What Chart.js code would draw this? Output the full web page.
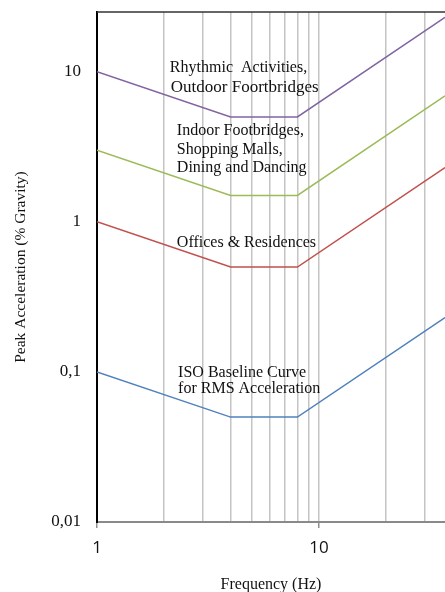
<!DOCTYPE html>
<html>
<head>
<meta charset="utf-8">
<script src="https://cdn.jsdelivr.net/npm/chart.js@4/dist/chart.umd.min.js"></script>
<style>
  html, body { margin: 0; padding: 0; background: #fff; }
  #wrap { width: 445px; height: 592px; position: relative; }
</style>
</head>
<body>
<div id="wrap"><canvas id="c"></canvas></div>
<script>
// ---- data ----
const frequencies = [1, 4, 8, 37];
const isoBaseline = [0.1, 0.05, 0.05, 0.23];
const officesResidences = [1, 0.5, 0.5, 2.3];
const indoorFootbridges = [3, 1.5, 1.5, 6.9];
const rhythmicActivities = [10, 5, 5, 23];

const xGridValues = [1, 2, 3, 4, 5, 6, 7, 8, 9, 10, 20, 30];
const xTickLabels = [1, 10];
const yTickValues = [0.01, 0.1, 1, 10];
const yTickLabels = ['0,01', '0,1', '1', '10'];

const noteTexts = ['Rhythmic  Activities,', 'Outdoor Foortbridges', 'Indoor Footbridges,', 'Shopping Malls,', 'Dining and Dancing', 'Offices & Residences', 'ISO Baseline Curve', 'for RMS Acceleration'];
const noteFreqs = [2.13, 2.15, 2.29, 2.29, 2.29, 2.29, 2.32, 2.32];
const noteAccels = [10.6, 7.82, 4.04, 3.02, 2.29, 0.724, 0.098, 0.0770];

const serif = '"Liberation Serif", "DejaVu Serif", serif';

const notesPlugin = {
  id: 'notes',
  afterDatasetsDraw(chart) {
    const {ctx, scales: {x, y}, chartArea} = chart;
    ctx.save();
    // top frame line
    ctx.strokeStyle = '#333';
    ctx.lineWidth = 1.5;
    ctx.beginPath();
    ctx.moveTo(chartArea.left, chartArea.top);
    ctx.lineTo(chartArea.right, chartArea.top);
    ctx.stroke();
    ctx.fillStyle = '#111';
    ctx.textAlign = 'left';
    ctx.textBaseline = 'middle';
    noteTexts.forEach((t, i) => {
      ctx.font = (i === 1 ? '17px ' : '16px ') + serif;
      ctx.fillText(t, x.getPixelForValue(noteFreqs[i]), y.getPixelForValue(noteAccels[i]));
    });
    ctx.restore();
  }
};

const mk = (label, data, color) => ({
  label, data: frequencies.map((f, i) => ({x: f, y: data[i]})),
  borderColor: color, backgroundColor: color, borderWidth: 1.5,
  pointRadius: 0, tension: 0, fill: false
});

new Chart(document.getElementById('c'), {
  type: 'line',
  data: {
    datasets: [
      mk('Rhythmic Activities, Outdoor Footbridges', rhythmicActivities, '#8064A2'),
      mk('Indoor Footbridges, Shopping Malls, Dining and Dancing', indoorFootbridges, '#9BBB59'),
      mk('Offices & Residences', officesResidences, '#C0504D'),
      mk('ISO Baseline Curve for RMS Acceleration', isoBaseline, '#4F81BD')
    ]
  },
  options: {
    animation: false,
    responsive: true,
    maintainAspectRatio: false,
    layout: { padding: { top: 12, right: 0, left: 0, bottom: 0 } },
    plugins: { legend: { display: false }, tooltip: { enabled: false } },
    scales: {
      x: {
        type: 'logarithmic',
        min: 1, max: 37,
        afterBuildTicks: s => { s.ticks = xGridValues.map(v => ({value: v})); },
        afterFit: s => { s.height = 70; s.paddingLeft = 0; s.paddingRight = 0; },
        ticks: {
          autoSkip: false, maxRotation: 0, padding: 10,
          color: '#111',
          font: { family: '"Open Sans", Lato, sans-serif', size: 17 },
          callback: v => xTickLabels.includes(v) ? String(v) : ''
        },
        grid: {
          color: c => (c.tick && c.tick.value === 1) ? 'rgba(0,0,0,0)' : '#c4c4c4',
          lineWidth: 1.5,
          tickLength: 6,
          tickColor: c => (c.tick && xTickLabels.includes(c.tick.value)) ? '#909090' : 'rgba(0,0,0,0)'
        },
        border: { display: true, color: '#8a8a8a', width: 2 },
        title: {
          display: true, text: 'Frequency (Hz)', color: '#111',
          font: { family: serif, size: 16, lineHeight: 1 }, padding: { top: 0, bottom: -1 }
        }
      },
      y: {
        type: 'logarithmic',
        min: 0.01, max: 25,
        afterBuildTicks: s => { s.ticks = yTickValues.map(v => ({value: v})); },
        afterFit: s => { s.width = 97; s.paddingTop = 0; s.paddingBottom = 0; },
        ticks: {
          autoSkip: false, padding: 16, color: '#111',
          font: { family: serif, size: 17 },
          callback: (v, i) => yTickLabels[yTickValues.indexOf(v)]
        },
        grid: { display: true, drawOnChartArea: false, drawTicks: false, color: 'rgba(0,0,0,0)' },
        border: { display: true, color: '#000', width: 2 },
        title: {
          display: true, text: 'Peak Acceleration (% Gravity)', color: '#111',
          font: { family: serif, size: 15.5 }, padding: { top: 12, bottom: 0 }
        }
      }
    }
  },
  plugins: [notesPlugin]
});
</script>
</body>
</html>
